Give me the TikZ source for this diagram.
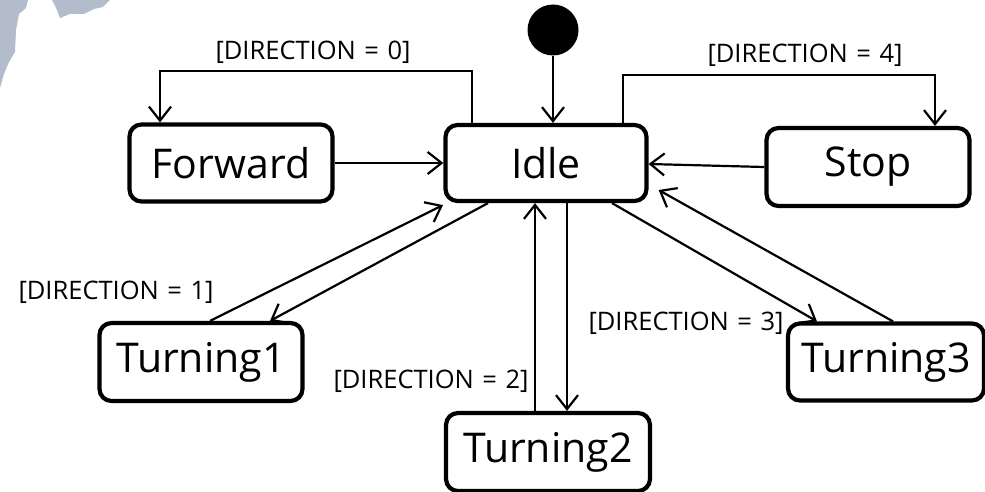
\documentclass[tikz,border=0pt]{standalone}
\usepackage{fontspec}
\setmainfont{Open Sans}
\usetikzlibrary{arrows.meta}
\definecolor{blob}{RGB}{160,172,190}
\tikzset{
  state/.style={draw=black, line width=4.2pt, rounded corners=12pt, fill=white,
    inner sep=0pt, font=\fontsize{41}{43}\selectfont},
  conn/.style={line width=2.2pt, -{Straight Barb[length=14pt,width=22pt,line width=2.2pt]}},
  guard/.style={font=\fontsize{25.5}{27}\selectfont, inner sep=0pt}
}
\begin{document}
\begin{tikzpicture}[x=1pt,y=-1pt]
\useasboundingbox (0,0) rectangle (985,492);
\fill[white] (0,0) rectangle (985,492);
% faint background texture at top-left
\fill[blob, opacity=0.8] (0,0) -- (28,0) -- (26,8) -- (19,14) -- (16,30) -- (15,52) -- (9,62) -- (4,74) -- (0,88) -- cycle;
\fill[blob, opacity=0.8] (52,0) -- (110,0) -- (103,7) -- (94,9) -- (84,14) -- (70,14) -- (60,18) -- (57,10) -- cycle;

\node[circle, fill=black, minimum size=51pt, inner sep=0pt] (init) at (553,30) {};
\node[state, minimum width=201pt, minimum height=76pt] (idle) at (546,163) {Idle};
\node[state, minimum width=203pt, minimum height=77pt] (fwd) at (231,163) {Forward};
\node[state, minimum width=203pt, minimum height=78pt] (stop) at (868,167) {Stop};
\node[state, minimum width=203pt, minimum height=78pt] (t1) at (201,362) {Turning1};
\node[state, minimum width=204pt, minimum height=78pt] (t2) at (548,452) {Turning2};
\node[state, minimum width=196pt, minimum height=77pt] (t3) at (886,362) {Turning3};

\coordinate (c0a) at (472,71);
\coordinate (c0b) at (160,71);
\coordinate (c4a) at (623,75);
\coordinate (c4b) at (935,75);

\draw[conn] (init.south) -- (idle.north -| init.south);
\draw[conn] (idle.north -| c0a) -- (c0a) -- (c0b) -- (fwd.north -| c0b);
\draw[conn] (idle.north -| c4a) -- (c4a) -- (c4b) -- (stop.north -| c4b);
\draw[conn] (fwd.east) -- (idle.west);
\draw[conn] (stop.west) -- ([yshift=-1pt]idle.east);
\draw[conn] ([xshift=9pt]t1.north) -- ([xshift=-103pt,yshift=-2pt]idle.south);
\draw[conn] ([xshift=-58pt]idle.south) -- ([xshift=69pt]t1.north);
\draw[conn] ([xshift=-13pt]t2.north) -- ([xshift=-11pt]idle.south);
\draw[conn] ([xshift=21pt]idle.south) -- ([xshift=19pt]t2.north);
\draw[conn] ([xshift=66pt]idle.south) -- ([xshift=-69pt]t3.north);
\draw[conn] ([xshift=7pt]t3.north) -- ([xshift=10pt,yshift=-27pt]idle.east);

\node[guard] (g0) at (313,52) {[DIRECTION\,\,=\,\,0]};
\node[guard] (g4) at (805,55) {[DIRECTION\,\,=\,\,4]};
\node[guard] (g1) at (116,292) {[DIRECTION\,\,=\,\,1]};
\node[guard] (g2) at (431,381) {[DIRECTION\,\,=\,\,2]};
\node[guard] (g3) at (686,323) {[DIRECTION\,\,=\,\,3]};
\end{tikzpicture}
\end{document}
